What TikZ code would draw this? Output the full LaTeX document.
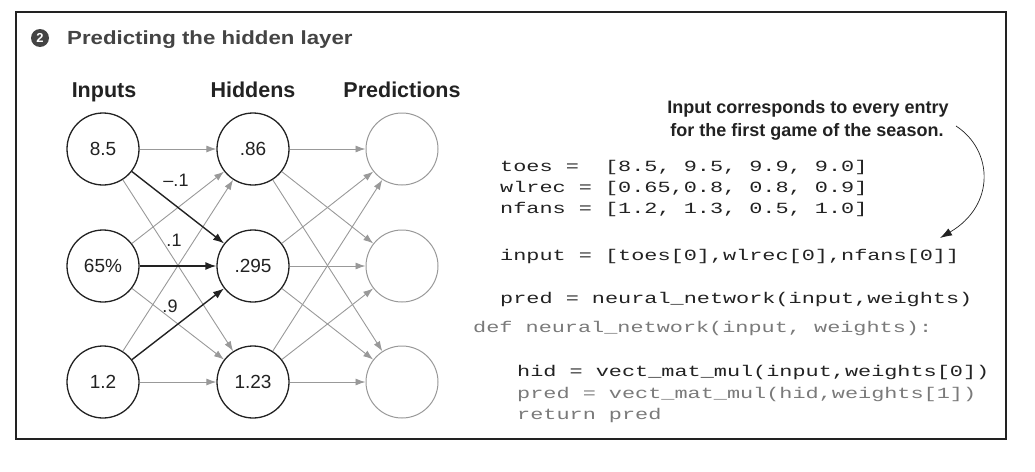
\documentclass[tikz,border=0pt]{standalone}
\usepackage{fontspec}
\setmainfont{Liberation Sans}
\newfontfamily\codefont[FakeStretch=1.41]{Liberation Mono}
\newfontfamily\titlefont[FakeStretch=1.17]{Liberation Sans}
\usetikzlibrary{arrows.meta}
\definecolor{ink}{HTML}{222222}
\definecolor{lgray}{HTML}{999999}
\definecolor{cgray}{HTML}{7A7A7A}
\definecolor{tgray}{HTML}{444444}
\begin{document}
\begin{tikzpicture}[x=1pt,y=-1pt,
  neuron/.style={circle,draw=ink,line width=1.3pt,minimum size=72pt,inner sep=0pt,text=ink,font=\fontsize{19}{21}\selectfont},
  outn/.style={neuron,draw=lgray,line width=1pt},
  garrow/.style={draw=lgray,line width=0.9pt,-{Latex[length=10pt,width=7pt]}},
  barrow/.style={draw=ink,line width=1.4pt,-{Latex[length=11pt,width=8pt]}},
  head/.style={font=\bfseries\fontsize{21.5}{24}\selectfont,anchor=base,text=ink},
  wlabel/.style={font=\fontsize{18}{20}\selectfont,text=ink,inner sep=0pt},
  code/.style={font=\codefont\fontsize{15.5}{18}\selectfont,anchor=base west,inner sep=0pt,text=ink},
  codeg/.style={code,text=cgray},
  note/.style={font=\bfseries\fontsize{18}{21.5}\selectfont,anchor=base,inner sep=0pt,text=ink},
  callout/.style={draw=ink,line width=0.7pt,-{Latex[length=12pt,width=8pt]}}]
\useasboundingbox (0,0) rectangle (1035,471);
\draw[ink,line width=1.2pt] (16,12) rectangle (1006,439);

% title
\node[circle,fill=tgray,inner sep=0pt,minimum size=18pt,text=white,font=\bfseries\fontsize{13}{13}\selectfont] (badge) at (40,38) {2};
\node[anchor=base west,inner sep=0pt,font=\titlefont\bfseries\fontsize{19}{22}\selectfont,text=tgray] (title) at (67,44) {Predicting the hidden layer};

% layer headings
\node[head] (hin) at (104,97) {Inputs};
\node[head] (hhid) at (253,97) {Hiddens};
\node[head] (hpred) at (402,97) {Predictions};

% neurons
\node[neuron] (i1) at (103,149) {8.5};
\node[neuron] (i2) at (103,266) {65\%};
\node[neuron] (i3) at (103,382) {1.2};
\node[neuron] (h1) at (253,149) {.86};
\node[neuron] (h2) at (253,266) {.295};
\node[neuron] (h3) at (253,382) {1.23};
\node[outn] (p1) at (402,149) {};
\node[outn] (p2) at (402,266) {};
\node[outn] (p3) at (402,382) {};

% gray connections
\draw[garrow] (i1) -- (h1);
\draw[garrow] (i1) -- (h3);
\draw[garrow] (i2) -- (h1);
\draw[garrow] (i2) -- (h3);
\draw[garrow] (i3) -- (h1);
\draw[garrow] (i3) -- (h3);
\foreach \h in {h1,h2,h3}{
  \foreach \p in {p1,p2,p3}{
    \draw[garrow] (\h) -- (\p);
  }
}
% bold connections
\draw[barrow] (i1) -- (h2);
\draw[barrow] (i2) -- (h2);
\draw[barrow] (i3) -- (h2);

% weights
\node[wlabel] (w1) at (176,180) {–.1};
\node[wlabel] (w2) at (174,240) {.1};
\node[wlabel] (w3) at (170,306) {.9};

% note
\node[note] (n1) at (808,113) {Input corresponds to every entry};
\node[note] (n2) at (807,136) {for the first game of the season.};

% code
\node[code] (c1) at (500,171) {toes =\ \ [8.5, 9.5, 9.9, 9.0]};
\node[code] (c2) at (500,192) {wlrec = [0.65,0.8, 0.8, 0.9]};
\node[code] (c3) at (500,213) {nfans = [1.2, 1.3, 0.5, 1.0]};
\node[code] (c4) at (500,260) {input = [toes[0],wlrec[0],nfans[0]]};
\node[code] (c5) at (500,303) {pred = neural\_network(input,weights)};
\node[codeg] (c6) at (473,332) {def neural\_network(input, weights):};
\node[code] (c7) at (517,376) {hid = vect\_mat\_mul(input,weights[0])};
\node[codeg] (c8) at (517,398) {pred = vect\_mat\_mul(hid,weights[1])};
\node[codeg] (c9) at (517,419) {return pred};

% callout arrow
\coordinate (a0) at (956,126);
\coordinate (a1) at (940,238);
\draw[callout] (a0) .. controls (993,150) and (996,205) .. (a1);
\end{tikzpicture}
\end{document}
